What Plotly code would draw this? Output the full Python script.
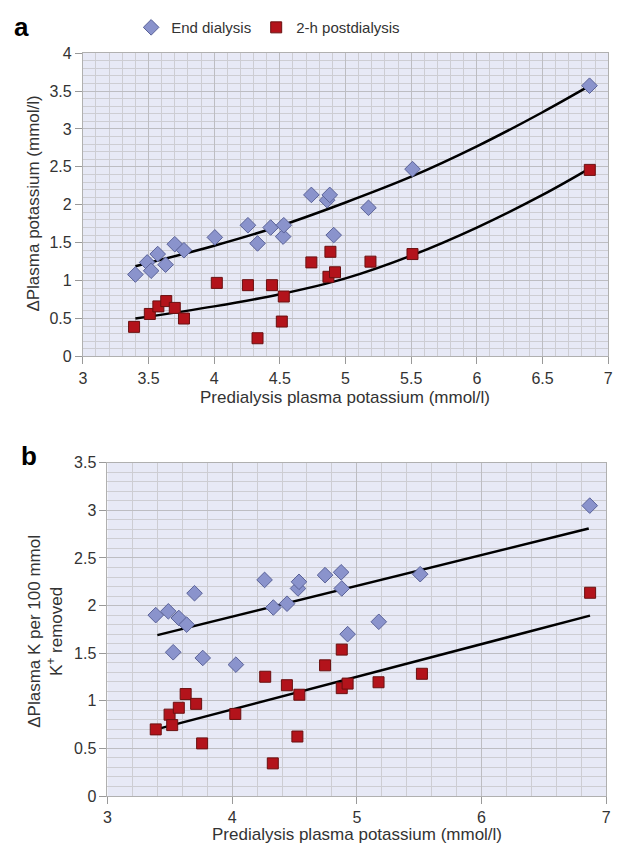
import plotly.graph_objects as go

# ---------------- Panel a data ----------------
a_end_x = [3.40, 3.49, 3.52, 3.57, 3.63, 3.70, 3.77, 4.005, 4.257, 4.33, 4.43, 4.525, 4.53, 4.74, 4.86, 4.88, 4.91, 5.175, 5.51, 6.858]
a_end_y = [1.08, 1.24, 1.13, 1.35, 1.21, 1.48, 1.40, 1.57, 1.73, 1.49, 1.70, 1.58, 1.73, 2.13, 2.06, 2.13, 1.60, 1.96, 2.47, 3.57]

a_post_x = [3.39, 3.51, 3.575, 3.635, 3.70, 3.77, 4.02, 4.257, 4.33, 4.44, 4.515, 4.53, 4.74, 4.87, 4.885, 4.92, 5.19, 5.51, 6.86]
a_post_y = [0.39, 0.56, 0.66, 0.73, 0.64, 0.50, 0.97, 0.94, 0.24, 0.94, 0.46, 0.79, 1.24, 1.05, 1.38, 1.11, 1.25, 1.35, 2.46]

a_end_fit_x = [3.40, 4.0, 4.5, 5.0, 5.5, 6.0, 6.5, 6.86]
a_end_fit_y = [1.19, 1.46, 1.72, 2.03, 2.37, 2.77, 3.22, 3.57]
a_post_fit_x = [3.40, 4.0, 4.5, 5.0, 5.5, 6.0, 6.5, 6.86]
a_post_fit_y = [0.50, 0.66, 0.82, 1.03, 1.33, 1.70, 2.13, 2.48]

# ---------------- Panel b data ----------------
b_end_x = [3.387, 3.488, 3.527, 3.572, 3.635, 3.698, 3.764, 4.03, 4.26, 4.33, 4.44, 4.528, 4.536, 4.745, 4.874, 4.879, 4.926, 5.176, 5.508, 6.868]
b_end_y = [1.90, 1.94, 1.51, 1.87, 1.80, 2.13, 1.45, 1.38, 2.27, 1.98, 2.02, 2.18, 2.25, 2.32, 2.35, 2.18, 1.70, 1.83, 2.33, 3.05]

b_post_x = [3.387, 3.498, 3.519, 3.572, 3.627, 3.711, 3.759, 4.025, 4.265, 4.326, 4.439, 4.523, 4.539, 4.745, 4.879, 4.879, 4.926, 5.174, 5.522, 6.871]
b_post_y = [0.70, 0.855, 0.745, 0.927, 1.071, 0.968, 0.553, 0.862, 1.253, 0.343, 1.164, 0.625, 1.064, 1.373, 1.538, 1.133, 1.181, 1.195, 1.284, 2.135]

b_end_fit_x = [3.40, 6.86]
b_end_fit_y = [1.69, 2.81]
b_post_fit_x = [3.39, 6.87]
b_post_fit_y = [0.70, 1.895]

x_label = "Predialysis plasma potassium (mmol/l)"
a_y_label = "ΔPlasma potassium (mmol/l)"
b_y_label = "ΔPlasma K per 100 mmol<br>K<sup>+</sup> removed"
legend_names = ["End dialysis", "2-h postdialysis"]

# ---------------- styles ----------------
FONT = "Liberation Sans, Arial, sans-serif"
DIA_FILL, DIA_LINE = "#8a93cc", "#5a6298"
SQ_FILL, SQ_LINE = "#b3131b", "#6a1010"
BG = "#e7e9f6"
GRID_MAJ = "#bdbdc2"
GRID_MIN = "#cdcdd3"
TXT = "#333333"

W, H = 625, 856

def px_x(p):
    return p / W

def px_y(p):
    return 1 - p / H

fig = go.Figure()

dia = dict(symbol="diamond", size=12, color=DIA_FILL, line=dict(color=DIA_LINE, width=1))
sq = dict(symbol="square", size=11, color=SQ_FILL, line=dict(color=SQ_LINE, width=1))
fitline = dict(color="black", width=2.5)

# panel a
fig.add_trace(go.Scatter(x=a_end_fit_x, y=a_end_fit_y, mode="lines", line=dict(**fitline, shape="spline"),
                         showlegend=False, xaxis="x", yaxis="y", hoverinfo="skip"))
fig.add_trace(go.Scatter(x=a_post_fit_x, y=a_post_fit_y, mode="lines", line=dict(**fitline, shape="spline"),
                         showlegend=False, xaxis="x", yaxis="y", hoverinfo="skip"))
fig.add_trace(go.Scatter(x=a_end_x, y=a_end_y, mode="markers", marker=dia, name=legend_names[0],
                         xaxis="x", yaxis="y"))
fig.add_trace(go.Scatter(x=a_post_x, y=a_post_y, mode="markers", marker=sq, name=legend_names[1],
                         xaxis="x", yaxis="y"))
# panel b
fig.add_trace(go.Scatter(x=b_end_fit_x, y=b_end_fit_y, mode="lines", line=fitline,
                         showlegend=False, xaxis="x2", yaxis="y2", hoverinfo="skip"))
fig.add_trace(go.Scatter(x=b_post_fit_x, y=b_post_fit_y, mode="lines", line=fitline,
                         showlegend=False, xaxis="x2", yaxis="y2", hoverinfo="skip"))
fig.add_trace(go.Scatter(x=b_end_x, y=b_end_y, mode="markers", marker=dia, name=legend_names[0],
                         showlegend=False, xaxis="x2", yaxis="y2"))
fig.add_trace(go.Scatter(x=b_post_x, y=b_post_y, mode="markers", marker=sq, name=legend_names[1],
                         showlegend=False, xaxis="x2", yaxis="y2"))

def axis(domain, rng, dtick, minor_dtick, anchor):
    return dict(
        domain=domain, range=rng, dtick=dtick, tick0=rng[0], anchor=anchor,
        showgrid=True, gridcolor=GRID_MAJ, gridwidth=1,
        minor=dict(dtick=minor_dtick, showgrid=True, gridcolor=GRID_MIN, gridwidth=1, ticks=""),
        showline=True, linecolor="#b0b0b0", linewidth=1, mirror=True,
        ticks="outside", ticklen=7, tickcolor="#999999", tickwidth=1,
        tickfont=dict(family=FONT, size=16, color=TXT),
        zeroline=False, fixedrange=True,
    )

fig.update_layout(
    width=W, height=H,
    margin=dict(l=0, r=0, t=0, b=0),
    paper_bgcolor="white", plot_bgcolor=BG,
    font=dict(family=FONT, color=TXT),
    xaxis=axis([px_x(80), px_x(613)], [3, 7], 0.5, 0.1, "y"),
    yaxis=axis([px_y(355.5), px_y(46)], [0, 4], 0.5, 0.1, "x"),
    xaxis2=axis([px_x(105), px_x(611)], [3, 7], 1, 0.2, "y2"),
    yaxis2=axis([px_y(804), px_y(464)], [0, 3.5], 0.5, 0.1, "x2"),
    legend=dict(orientation="h", x=px_x(268), xanchor="center", y=px_y(20), yanchor="middle",
                font=dict(family=FONT, size=15, color=TXT), bgcolor="rgba(0,0,0,0)",
                itemwidth=30, tracegroupgap=0),
    showlegend=True,
)

ann = [
    dict(text="<b>a</b>", x=px_x(18), y=px_y(19), font=dict(size=26, color="black")),
    dict(text="<b>b</b>", x=px_x(25), y=px_y(457), font=dict(size=26, color="black")),
    dict(text=x_label, x=px_x(346), y=px_y(397), font=dict(size=17, color=TXT)),
    dict(text=x_label, x=px_x(358), y=px_y(843), font=dict(size=17, color=TXT)),
    dict(text=a_y_label, x=px_x(29), y=px_y(200), textangle=-90, font=dict(size=17, color=TXT)),
    dict(text=b_y_label, x=px_x(42), y=px_y(636), textangle=-90, font=dict(size=17, color=TXT)),
]
for a in ann:
    fig.add_annotation(xref="paper", yref="paper", showarrow=False, xanchor="center", yanchor="middle",
                       font_family=FONT, **a)

fig.write_html("out.html", config={"displayModeBar": False},
               post_script="document.body.style.margin='0';document.body.style.overflow='hidden';")
